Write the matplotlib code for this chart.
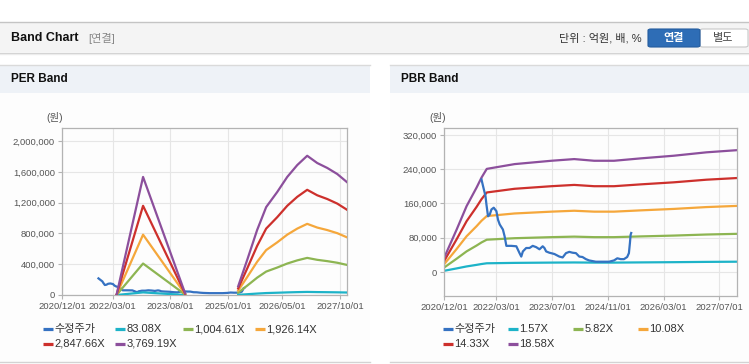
import numpy as np
import pandas as pd
import matplotlib
matplotlib.use('Agg')
import matplotlib.pyplot as plt
from matplotlib.patches import Rectangle, FancyBboxPatch
from matplotlib.lines import Line2D
from matplotlib.ticker import FuncFormatter

plt.rcParams['font.family'] = ['Liberation Sans', 'Noto Sans CJK KR']

# 수정주가 (same series in both charts)
price_dates = ['2021-10-24', '2021-11-07', '2021-11-28', '2021-12-06', '2021-12-20',
               '2022-01-04', '2022-01-19', '2022-02-08', '2022-03-03', '2022-03-17',
               '2022-04-01', '2022-04-29', '2022-05-14', '2022-05-29', '2022-07-11',
               '2022-08-24', '2022-09-21', '2022-10-06', '2022-10-20', '2022-11-18',
               '2022-12-17', '2023-01-14', '2023-02-13', '2023-03-14', '2023-04-11',
               '2023-04-26', '2023-05-11', '2023-06-08', '2023-07-22', '2023-09-03',
               '2023-10-02', '2023-10-31', '2023-11-29', '2023-12-27', '2024-01-26',
               '2024-02-24', '2024-03-23', '2024-04-22', '2024-05-20', '2024-07-17',
               '2024-09-10', '2024-11-10', '2024-12-23', '2025-01-21', '2025-02-19',
               '2025-03-20', '2025-04-17', '2025-05-02', '2025-05-11', '2025-05-17',
               '2025-05-22']
price_values = [216000, 200000, 177000, 158000, 130000, 134000, 146000, 150000, 142000, 122000,
                111000, 99000, 83000, 61000, 61000, 60000, 44000, 36000, 48000, 56000,
                56000, 61000, 58000, 53000, 60000, 56000, 48000, 45000, 42000, 36000,
                34000, 44000, 47000, 45000, 44000, 36000, 35000, 30000, 27000, 24000,
                24000, 24000, 27000, 32000, 30000, 30000, 35000, 44000, 68000, 87000,
                91000]

# PER band: EPS x multiple
per_multiples = [83.08, 1004.61, 1926.14, 2847.66, 3769.19]
per_labels = ['83.08X', '1,004.61X', '1,926.14X', '2,847.66X', '3,769.19X']
eps_dates = ['2022-04-05', '2022-11-28', '2023-12-10', '2024-08-01',
             '2025-03-30', '2025-06-19', '2025-09-16', '2025-12-06', '2026-03-15',
             '2026-06-13', '2026-09-11', '2026-12-09', '2027-03-09', '2027-06-07',
             '2027-09-05', '2027-12-01']
eps_values = [2, 407, 6, np.nan,
              30, 121, 224, 303, 355, 407, 448, 480, 455, 438, 417, 389]

# PBR band: BPS x multiple
pbr_multiples = [1.57, 5.82, 10.08, 14.33, 18.58]
pbr_labels = ['1.57X', '5.82X', '10.08X', '14.33X', '18.58X']
bps_dates = ['2020-12-01', '2021-03-21', '2021-06-16', '2021-09-11', '2021-10-24',
             '2021-12-09', '2022-08-09', '2023-06-26', '2024-01-11', '2024-07-03',
             '2024-12-23', '2025-08-14', '2026-05-27', '2027-03-10', '2027-12-01']
bps_values = [1750, 5320, 8270, 10600, 11850, 12950, 13550, 13970, 14180, 13970,
              13970, 14270, 14600, 15030, 15300]

per_xticks = ['2020/12/01', '2022/03/01', '2023/08/01', '2025/01/01', '2026/05/01', '2027/10/01']
pbr_xticks = ['2020/12/01', '2022/03/01', '2023/07/01', '2024/11/01', '2026/03/01', '2027/07/01']
per_yticks = [0, 400000, 800000, 1200000, 1600000, 2000000]
pbr_yticks = [0, 80000, 160000, 240000, 320000]

price_color = '#3572c2'
band_colors = ['#1db3c8', '#8db552', '#f5a73b', '#cd302c', '#8c4f9c']

W, H = 749, 364
fig = plt.figure(figsize=(W / 100, H / 100), dpi=100)
fig.patch.set_facecolor('white')


def fx(x):
    return x / W


def fy(y):
    return 1 - y / H


def box(x0, y0, x1, y1, color):
    fig.add_artist(Rectangle((fx(x0), fy(y1)), (x1 - x0) / W, (y1 - y0) / H,
                             transform=fig.transFigure, fc=color, ec='none', zorder=0))


def hline(x0, x1, y, color, lw=1.0):
    fig.add_artist(Line2D([fx(x0), fx(x1)], [fy(y), fy(y)], transform=fig.transFigure,
                          color=color, lw=lw, zorder=1))


# top header bar
box(0, 22, W, 52, '#f4f4f4')
hline(0, W, 22, '#c4c4c4')
hline(0, W, 52.5, '#cfcfcf')
hline(0, W, 53.5, '#ececec')
fig.text(fx(11), fy(38), 'Band Chart', fontsize=9, fontweight='bold', color='#111111', va='center')
fig.text(fx(88), fy(38), '[연결]', fontsize=8, color='#888888', va='center')
fig.text(fx(642), fy(38), '단위 : 억원, 배, %', fontsize=8, color='#333333', va='center', ha='right')
fig.add_artist(FancyBboxPatch((fx(700), fy(47)), fx(48), 18 / H, boxstyle='round,pad=0,rounding_size=0.004',
                              transform=fig.transFigure, fc='white', ec='#c8c8c8', lw=0.8))
fig.add_artist(FancyBboxPatch((fx(648), fy(47)), fx(52), 18 / H, boxstyle='round,pad=0,rounding_size=0.004',
                              transform=fig.transFigure, fc='#2e6db6', ec='#245c9e', lw=0.8))
fig.text(fx(674), fy(38), '연결', fontsize=8, fontweight='bold', color='white', va='center', ha='center')
fig.text(fx(723), fy(38), '별도', fontsize=8, color='#444444', va='center', ha='center')

# panels
for px0, px1, title in [(0, 370, 'PER Band'), (390, W, 'PBR Band')]:
    box(px0, 65, px1, 93, '#eef2f7')
    box(px0, 93, px1, 362, '#fdfdfd')
    hline(px0, px1, 64.5, '#dadada')
    hline(px0, px1, 362, '#d3d3d3')
    fig.text(fx(px0 + 11), fy(79), title, fontsize=8.5, fontweight='bold', color='#111111', va='center')


def setup_axes(rect, ylim, yticks, xticks, unit_x):
    ax = fig.add_axes(rect)
    ax.set_facecolor('none')
    ax.set_xlim(pd.Timestamp('2020-12-01'), pd.Timestamp('2027-12-01'))
    ax.set_ylim(*ylim)
    ax.set_yticks(yticks)
    ax.yaxis.set_major_formatter(FuncFormatter(lambda v, p: '{:,.0f}'.format(v)))
    ax.set_xticks(pd.to_datetime(xticks, format='%Y/%m/%d'))
    ax.set_xticklabels(xticks)
    ax.grid(True, color='#e6e6e6', lw=0.8)
    ax.set_axisbelow(True)
    for s in ax.spines.values():
        s.set_color('#b3b3b3')
        s.set_linewidth(0.9)
    ax.tick_params(direction='out', length=3, width=0.8, color='#b3b3b3',
                   labelsize=6.8, labelcolor='#555555', pad=2)
    fig.text(fx(unit_x), fy(118), '(원)', fontsize=7.5, color='#555555', va='center')
    return ax


def legend(items, xs):
    rows = [329, 344]
    for i, (label, color) in enumerate(items):
        x = xs[i % 4]
        y = rows[i // 4]
        fig.add_artist(Line2D([fx(x), fx(x + 10)], [fy(y), fy(y)], transform=fig.transFigure,
                              color=color, lw=2.3, solid_capstyle='butt'))
        fig.text(fx(x + 11.5), fy(y), label, fontsize=8, color='#333333', va='center')


price_x = pd.to_datetime(price_dates)

# PER Band
ax1 = setup_axes([62 / W, 1 - 295 / H, 285 / W, 167 / H], (0, 2170000),
                 per_yticks, per_xticks, 46)
ax1.plot(price_x, price_values, color=price_color, lw=1.6, zorder=2)
eps_x = pd.to_datetime(eps_dates)
for m, c in zip(per_multiples, band_colors):
    ax1.plot(eps_x, np.array(eps_values) * m, color=c, lw=1.6, zorder=3)
legend([('수정주가', price_color)] + list(zip(per_labels, band_colors)), [43, 115, 183, 255])

# PBR Band
ax2 = setup_axes([444 / W, 1 - 296 / H, 293 / W, 168 / H], (-56000, 336000),
                 pbr_yticks, pbr_xticks, 429)
ax2.plot(price_x, price_values, color=price_color, lw=1.6, zorder=3)
bps_x = pd.to_datetime(bps_dates)
for m, c in zip(pbr_multiples, band_colors):
    ax2.plot(bps_x, np.array(bps_values) * m, color=c, lw=1.6, zorder=2)
legend([('수정주가', price_color)] + list(zip(pbr_labels, band_colors)), [443, 508, 573, 638])

fig.savefig('out.png', dpi=100)
